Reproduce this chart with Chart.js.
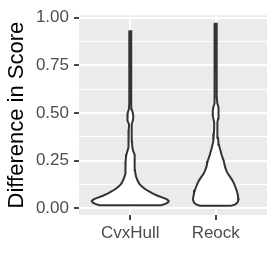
<!DOCTYPE html>
<html>
<head>
<meta charset="utf-8">
<script src="https://cdn.jsdelivr.net/npm/chart.js@4"></script>
<style>
  body { margin: 0; background: #fff; }
</style>
</head>
<body>
<canvas id="chart" width="277" height="277"></canvas>
<script>
// catégories et profils des violons (score, demi-largeur)
const categories = ["CvxHull", "Reock"];
const yTicks = [0, 0.25, 0.5, 0.75, 1];
const yMinor = [0.125, 0.375, 0.625, 0.875];

const cvxScore = [0.015, 0.022, 0.030, 0.038, 0.046, 0.055, 0.065, 0.078, 0.090, 0.103, 0.116, 0.129, 0.145, 0.163, 0.18, 0.20, 0.222, 0.245, 0.265, 0.282, 0.30, 0.32, 0.35, 0.38, 0.41, 0.44, 0.46, 0.48, 0.50, 0.52, 0.55, 0.60, 0.70, 0.80, 0.929];
const cvxWidth = [0.36, 0.41, 0.44, 0.45, 0.43, 0.38, 0.32, 0.26, 0.21, 0.165, 0.13, 0.105, 0.085, 0.07, 0.06, 0.055, 0.055, 0.055, 0.05, 0.045, 0.033, 0.024, 0.02, 0.018, 0.018, 0.014, 0.03, 0.036, 0.03, 0.016, 0.012, 0.012, 0.011, 0.011, 0.010];

const reockScore = [0.013, 0.02, 0.03, 0.045, 0.06, 0.078, 0.095, 0.111, 0.13, 0.146, 0.163, 0.18, 0.197, 0.214, 0.23, 0.248, 0.265, 0.282, 0.30, 0.316, 0.333, 0.35, 0.37, 0.39, 0.42, 0.45, 0.47, 0.49, 0.51, 0.53, 0.55, 0.58, 0.65, 0.75, 0.85, 0.968];
const reockWidth = [0.185, 0.23, 0.255, 0.267, 0.262, 0.254, 0.243, 0.23, 0.213, 0.195, 0.17, 0.143, 0.125, 0.111, 0.102, 0.094, 0.08, 0.068, 0.057, 0.047, 0.038, 0.031, 0.026, 0.022, 0.018, 0.018, 0.028, 0.035, 0.035, 0.028, 0.018, 0.014, 0.013, 0.012, 0.011, 0.010];

// contour fermé : côté droit en montant, côté gauche en descendant
function violin(center, scores, widths) {
  const pts = [];
  scores.forEach((s, i) => pts.push({ x: center + widths[i], y: s }));
  for (let i = scores.length - 1; i >= 0; i--) pts.push({ x: center - widths[i], y: scores[i] });
  pts.push(pts[0]);
  return pts;
}

const isMajor = v => Math.abs(v * 4 - Math.round(v * 4)) < 1e-6;

const panelBg = {
  id: 'panelBg',
  beforeDraw(chart) {
    const { ctx, chartArea: a } = chart;
    ctx.save();
    ctx.fillStyle = '#EBEBEB';
    ctx.fillRect(a.left, a.top, a.right - a.left, a.bottom - a.top);
    ctx.restore();
  }
};

const tickFont = { family: 'Liberation Sans', size: 17 };

new Chart(document.getElementById('chart'), {
  type: 'scatter',
  data: {
    datasets: [
      { data: violin(1, cvxScore, cvxWidth) },
      { data: violin(2, reockScore, reockWidth) }
    ].map(d => Object.assign(d, {
      showLine: true,
      fill: 'shape',
      backgroundColor: '#ffffff',
      borderColor: '#333333',
      borderWidth: 2,
      pointRadius: 0,
      tension: 0
    }))
  },
  options: {
    responsive: false,
    animation: false,
    layout: { padding: { top: 10, right: 10, left: 0, bottom: 0 } },
    plugins: { legend: { display: false }, tooltip: { enabled: false } },
    scales: {
      x: {
        type: 'linear',
        min: 0.4,
        max: 2.6,
        afterBuildTicks: s => { s.ticks = [1, 2].map(v => ({ value: v })); },
        afterFit: s => { s.height = 62; },
        ticks: {
          callback: v => categories[Math.round(v) - 1],
          color: '#4D4D4D',
          font: tickFont,
          padding: 3,
          maxRotation: 0,
          autoSkip: false
        },
        grid: { color: '#ffffff', lineWidth: 2, tickColor: '#333333', tickLength: 5, tickWidth: 1.8 },
        border: { display: false }
      },
      y: {
        min: -0.036,
        max: 1.013,
        afterBuildTicks: s => { s.ticks = yTicks.concat(yMinor).sort((a, b) => a - b).map(v => ({ value: v })); },
        afterFit: s => { s.width = 79; },
        ticks: {
          callback: v => isMajor(v) ? v.toFixed(2) : '',
          color: '#4D4D4D',
          font: tickFont,
          padding: 5,
          autoSkip: false
        },
        grid: {
          color: '#ffffff',
          lineWidth: c => isMajor(c.tick.value) ? 2 : 1,
          tickColor: c => isMajor(c.tick.value) ? '#333333' : 'rgba(0,0,0,0)',
          tickLength: 5,
          tickWidth: 1.8
        },
        border: { display: false },
        title: {
          display: true,
          text: 'Difference in Score',
          color: '#000000',
          font: { family: 'Liberation Sans', size: 22 },
          padding: { top: 4, bottom: 0 }
        }
      }
    }
  },
  plugins: [panelBg]
});
</script>
</body>
</html>
